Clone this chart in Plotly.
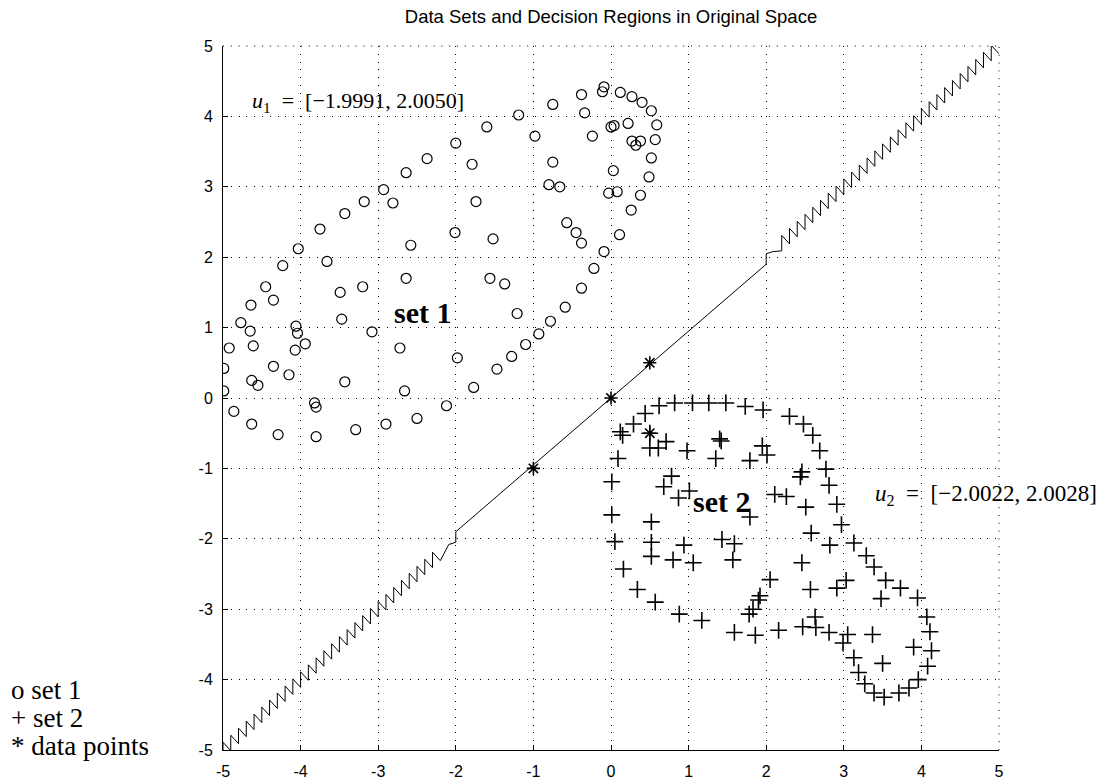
import numpy as np
import plotly.graph_objects as go

# ---------------- data ----------------
set1_x = [-2.00, -2.37, -2.64, -2.93, -2.81, -3.18, -3.43, -3.75, -1.79, -2.01,
          -0.09, -0.11, 0.12, 0.27, 0.40, 0.52, 0.59, 0.57, 0.52, 0.49,
          0.38, 0.26, 0.22, 0.04, 0.00, 0.27, 0.38, 0.32, 0.03, 0.08,
          -0.03, -0.38, -0.34, -0.24, -0.75, -0.98, -1.19, -1.60, -1.74, -0.75,
          -0.80, -0.66, -0.57, -0.45, -0.38, 0.11, -0.09, -0.22, -0.38, -0.59,
          -0.78, -0.93, -1.10, -1.28, -1.47, -1.77, -1.52, -1.56, -1.37, -1.21,
          -1.98, -4.03, -3.66, -4.23, -4.45, -4.35, -4.64, -4.77, -4.65, -4.61,
          -4.92, -4.99, -4.99, -4.86, -4.63, -4.29, -3.80, -3.82, -3.80, -4.63,
          -4.55, -4.35, -4.15, -4.06, -4.04, -3.94, -4.07, -3.49, -3.20, -3.47,
          -3.08, -3.43, -3.29, -2.90, -2.66, -2.50, -2.72, -2.64, -2.58, -2.12]
set1_y = [3.62, 3.40, 3.20, 2.96, 2.77, 2.79, 2.62, 2.40, 3.32, 2.35,
          4.42, 4.35, 4.34, 4.28, 4.20, 4.08, 3.88, 3.67, 3.41, 3.14,
          2.88, 2.67, 3.90, 3.87, 3.85, 3.65, 3.65, 3.59, 3.23, 2.93,
          2.91, 4.31, 4.05, 3.72, 4.17, 3.72, 4.02, 3.85, 2.79, 3.35,
          3.03, 3.00, 2.49, 2.35, 2.20, 2.32, 2.08, 1.84, 1.56, 1.29,
          1.09, 0.91, 0.76, 0.59, 0.41, 0.15, 2.26, 1.70, 1.62, 1.20,
          0.57, 2.12, 1.94, 1.88, 1.58, 1.39, 1.32, 1.07, 0.95, 0.74,
          0.71, 0.42, 0.10, -0.19, -0.37, -0.52, -0.55, -0.07, -0.13, 0.25,
          0.18, 0.45, 0.33, 1.02, 0.92, 0.77, 0.68, 1.50, 1.58, 1.12,
          0.94, 0.23, -0.45, -0.37, 0.10, -0.29, 0.71, 1.70, 2.17, -0.11]

set2_x = [0.62, 0.44, 0.29, 0.12, 0.15, 0.82, 1.05, 1.26, 1.48, 1.73,
          1.96, 2.30, 2.48, 0.50, 0.61, 0.71, 0.09, 0.98, 1.40, 1.42,
          1.35, 1.79, 1.95, 2.01, 2.46, 2.44, 0.78, 0.68, 0.01, 0.87,
          1.01, 2.11, 2.26, 1.79, 2.51, 0.01, 0.52, 0.05, 0.52, 0.52,
          0.94, 0.80, 1.06, 1.43, 1.59, 1.57, 0.16, 0.34, 2.05, 1.92,
          2.46, 2.60, 2.69, 2.77, 2.81, 2.91, 2.97, 2.58, 2.82, 3.13,
          3.29, 3.39, 3.54, 3.73, 2.57, 2.91, 3.03, 3.95, 3.48, 4.07,
          4.11, 4.13, 4.08, 3.96, 3.84, 3.71, 3.52, 3.39, 3.27, 3.19,
          3.13, 3.90, 3.50, 3.37, 2.99, 3.05, 2.81, 2.64, 2.63, 2.47,
          2.16, 0.57, 0.88, 1.17, 1.59, 1.86, 1.78, 1.83, 1.90, 0.50]
set2_y = [-0.11, -0.22, -0.37, -0.48, -0.53, -0.07, -0.07, -0.07, -0.07, -0.12,
          -0.17, -0.26, -0.37, -0.71, -0.71, -0.62, -0.86, -0.75, -0.58, -0.61,
          -0.86, -0.89, -0.68, -0.81, -1.05, -1.12, -1.11, -1.26, -1.19, -1.42,
          -1.32, -1.37, -1.40, -1.69, -1.55, -1.66, -1.76, -2.04, -2.05, -2.25,
          -2.09, -2.30, -2.34, -2.01, -2.07, -2.30, -2.43, -2.72, -2.58, -2.81,
          -2.34, -0.53, -0.75, -1.01, -1.24, -1.51, -1.80, -1.92, -2.09, -2.06,
          -2.24, -2.40, -2.59, -2.70, -2.72, -2.70, -2.59, -2.84, -2.85, -3.11,
          -3.32, -3.59, -3.81, -4.00, -4.12, -4.19, -4.25, -4.19, -4.06, -3.90,
          -3.69, -3.54, -3.77, -3.36, -3.48, -3.36, -3.33, -3.26, -3.11, -3.25,
          -3.30, -2.90, -3.07, -3.16, -3.33, -3.37, -3.07, -3.00, -2.87, -0.50]

data_x = [-1.0, 0.0, 0.5, 0.5]
data_y = [-1.0, 0.0, 0.5, -0.5]

tick_vals = [-5, -4, -3, -2, -1, 0, 1, 2, 3, 4, 5]
tick_text = ["-5", "-4", "-3", "-2", "-1", "0", "1", "2", "3", "4", "5"]

# decision boundary (y = x); outer parts traced on a coarse grid (staircase)
boundary_limits = [-5.0, -2.2, 2.2, 5.0]
grid_step = 0.1
tooth_half = 0.11


def staircase(x0, x1):
    xs, ys = [], []
    n = int(round((x1 - x0) / grid_step))
    for k in range(n):
        xk = x0 + k * grid_step
        xs += [xk, xk]
        ys += [xk - tooth_half, xk + tooth_half]
    xs.append(x1)
    ys.append(x1 - tooth_half)
    return xs, ys


lx, ly = staircase(boundary_limits[0], boundary_limits[1])
ux, uy = staircase(boundary_limits[2], boundary_limits[3])
bx = lx + [-2.09, -2.0, -2.0, 2.0, 2.0, 2.09] + ux
by = ly + [-2.08, -2.05, -1.9, 1.9, 2.05, 2.08] + uy
bx[0], by[0] = -5.0, -5.0

fig = go.Figure()
fig.add_trace(go.Scatter(x=bx, y=by, mode="lines",
                         line=dict(color="black", width=1), hoverinfo="skip"))
fig.add_trace(go.Scatter(x=set1_x, y=set1_y, mode="markers",
                         marker=dict(symbol="circle-open", size=10, color="black",
                                     line=dict(width=1.2, color="black"))))
fig.add_trace(go.Scatter(x=set2_x, y=set2_y, mode="markers",
                         marker=dict(symbol="cross-thin-open", size=12, color="black",
                                     line=dict(width=1.6, color="black"))))
fig.add_trace(go.Scatter(x=data_x, y=data_y, mode="markers",
                         marker=dict(symbol="asterisk-open", size=11, color="black",
                                     line=dict(width=1.6, color="black"))))

dot_pattern = "1px,6.8px"
axis_common = dict(range=[-5, 5], tickvals=tick_vals, ticktext=tick_text,
                   ticks="inside", ticklen=5, tickcolor="black", tickwidth=1,
                   showline=True, linecolor="black", linewidth=1,
                   showgrid=True, gridcolor="black", gridwidth=1,
                   griddash=dot_pattern, zeroline=False, automargin=False,
                   tickfont=dict(family="Liberation Sans, Arial", size=16, color="black"))
fig.update_xaxes(**axis_common, ticklabelstandoff=7)
fig.update_yaxes(**axis_common, ticklabelstandoff=6)

# dotted top and right frame edges
fig.add_shape(type="line", xref="paper", yref="paper", x0=0, x1=1, y0=1, y1=1,
              line=dict(color="black", width=1, dash=dot_pattern))
fig.add_shape(type="line", xref="paper", yref="paper", x0=1, x1=1, y0=0, y1=1,
              line=dict(color="black", width=1, dash=dot_pattern))

serif = "Liberation Serif, Times New Roman, serif"
ann = [
    dict(x=-4.65, y=4.20, xref="x", yref="y", xanchor="left", yanchor="middle",
         text="<i>u</i><sub>1</sub>  =  [\u22121.9991, 2.0050]", showarrow=False,
         font=dict(family=serif, size=22, color="black")),
    dict(x=3.38, y=-1.38, xref="x", yref="y", xanchor="left", yanchor="middle",
         text="<i>u</i><sub>2</sub>  =  [\u22122.0022, 2.0028]", showarrow=False,
         font=dict(family=serif, size=23, color="black")),
    dict(x=-2.43, y=1.21, xref="x", yref="y", xanchor="center", yanchor="middle",
         text="<b>set 1</b>", showarrow=False,
         font=dict(family=serif, size=30, color="black")),
    dict(x=1.43, y=-1.47, xref="x", yref="y", xanchor="center", yanchor="middle",
         text="<b>set 2</b>", showarrow=False,
         font=dict(family=serif, size=30, color="black")),
]
legend_lines = ["o set 1", "+ set 2", "* data points"]
legend_py = [690, 718, 746]
for t, py in zip(legend_lines, legend_py):
    ann.append(dict(x=(9 - 223) / 776, y=(750 - py) / 704, xref="paper", yref="paper",
                    xanchor="left", yanchor="middle", text=t, showarrow=False,
                    font=dict(family=serif, size=27, color="black")))

fig.update_layout(
    width=1112, height=784,
    margin=dict(l=223, r=113, t=46, b=34),
    paper_bgcolor="white", plot_bgcolor="white",
    showlegend=False,
    title=dict(text="Data Sets and Decision Regions in Original Space",
               x=611 / 1112, xanchor="center", y=1 - 17 / 784, yanchor="middle",
               yref="container", xref="container",
               font=dict(family="Liberation Sans, Arial", size=18.5, color="black")),
    annotations=ann,
)

fig.write_html("out.html")
